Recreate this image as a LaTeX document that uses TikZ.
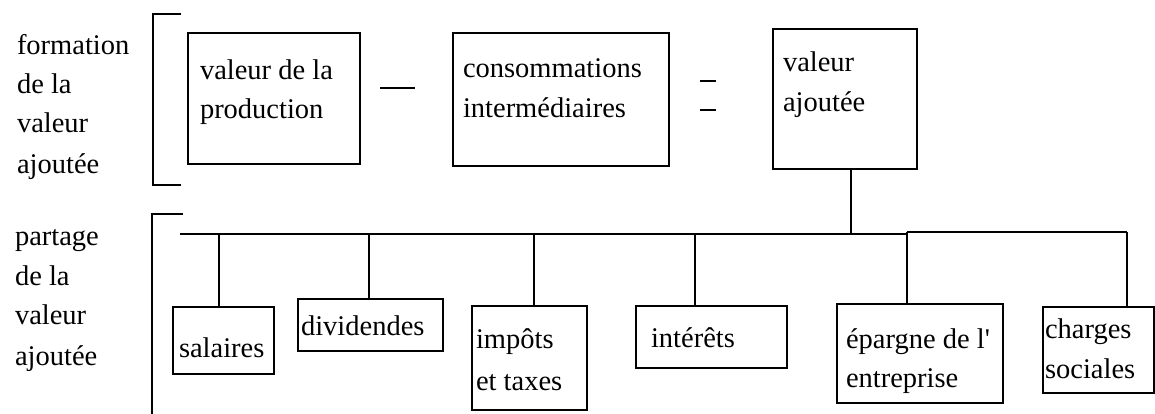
\documentclass[tikz,border=0pt]{standalone}
\usepackage{fontspec}
\setmainfont{Liberation Serif}
\begin{document}
\begin{tikzpicture}[x=1pt,y=-1pt,
  every node/.style={inner sep=0pt, outer sep=0pt},
  txt/.style={anchor=base west, font=\fontsize{28.5}{39}\selectfont},
  box/.style={draw, line width=1.4pt, anchor=north west},
  wire/.style={line width=1.4pt},
  bracket/.style={line width=1.4pt}]
\useasboundingbox (0,0) rectangle (1155,414);

% --- side labels ---
\node[txt] (f1) at (17,55) {formation};
\node[txt] (f2) at (17,94) {de la};
\node[txt] (f3) at (17,133) {valeur};
\node[txt] (f4) at (17,173) {ajoutée};

\node[txt] (p1) at (15,245) {partage};
\node[txt] (p2) at (15,285) {de la};
\node[txt] (p3) at (15,324) {valeur};
\node[txt] (p4) at (15,365) {ajoutée};

% --- brackets ---
\draw[bracket] (181,14) -- (153,14) -- (153,185) -- (181,185);
\draw[bracket] (183,214) -- (152,214) -- (152,414);

% --- formation row ---
\node[box, minimum width=172pt, minimum height=131pt] (prod) at (188,33) {};
\node[txt] (prod1) at (200,80) {valeur de la};
\node[txt] (prod2) at (200,119) {production};

\node[box, minimum width=216pt, minimum height=133pt] (ci) at (453,33) {};
\node[txt] (ci1) at (463,78) {consommations};
\node[txt] (ci2) at (463,118) {intermédiaires};

\node[box, minimum width=144pt, minimum height=140pt] (va) at (773,29) {};
\node[txt] (va1) at (783,72) {valeur};
\node[txt] (va2) at (783,112) {ajoutée};

% operators
\draw[wire] (380,88) -- (415,88);
\draw[wire] (700,81) -- (716,81);
\draw[wire] (700,110) -- (716,110);

% --- distribution bus ---
\coordinate (busL) at (180,234);
\coordinate (busM) at (907,234);
\coordinate (busN) at (907,232);
\coordinate (busR) at (1127,232);
\coordinate (vdrop) at (851,234);
\draw[wire] (va.south -| vdrop) -- (vdrop);
\draw[wire] (busL) -- (busM);
\draw[wire] (busN) -- (busR);

% --- distribution boxes ---
\node[box, minimum width=101pt, minimum height=67pt] (sal) at (173,307) {};
\node[txt] (sal1) at (179,357) {salaires};

\node[box, minimum width=145pt, minimum height=52pt] (div) at (298,299) {};
\node[txt] (div1) at (301,335) {dividendes};

\node[box, minimum width=115pt, minimum height=104pt] (imp) at (472,306) {};
\node[txt] (imp1) at (476,348) {impôts};
\node[txt] (imp2) at (476,390) {et taxes};

\node[box, minimum width=151pt, minimum height=62pt] (int) at (636,306) {};
\node[txt] (int1) at (651,347) {intérêts};
\draw[line width=2.6pt] (670,306) -- (740,306);

\node[box, minimum width=166pt, minimum height=99pt] (epa) at (837,304) {};
\node[txt] (epa1) at (846,348) {épargne de l\textquotesingle};
\node[txt] (epa2) at (846,387) {entreprise};

\node[box, minimum width=111pt, minimum height=86pt] (cha) at (1043,307) {};
\node[txt] (cha1) at (1045,338) {charges};
\node[txt] (cha2) at (1045,378) {sociales};

% drops from the bus
\coordinate (d1) at (219,234);
\coordinate (d2) at (369,234);
\coordinate (d3) at (534,234);
\coordinate (d4) at (695,234);
\coordinate (d5) at (907,232);
\coordinate (d6) at (1127,232);
\draw[wire] (d1) -- (d1 |- sal.north);
\draw[wire] (d2) -- (d2 |- div.north);
\draw[wire] (d3) -- (d3 |- imp.north);
\draw[wire] (d4) -- (d4 |- int.north);
\draw[wire] (d5) -- (d5 |- epa.north);
\draw[wire] (d6) -- (d6 |- cha.north);
\end{tikzpicture}
\end{document}
